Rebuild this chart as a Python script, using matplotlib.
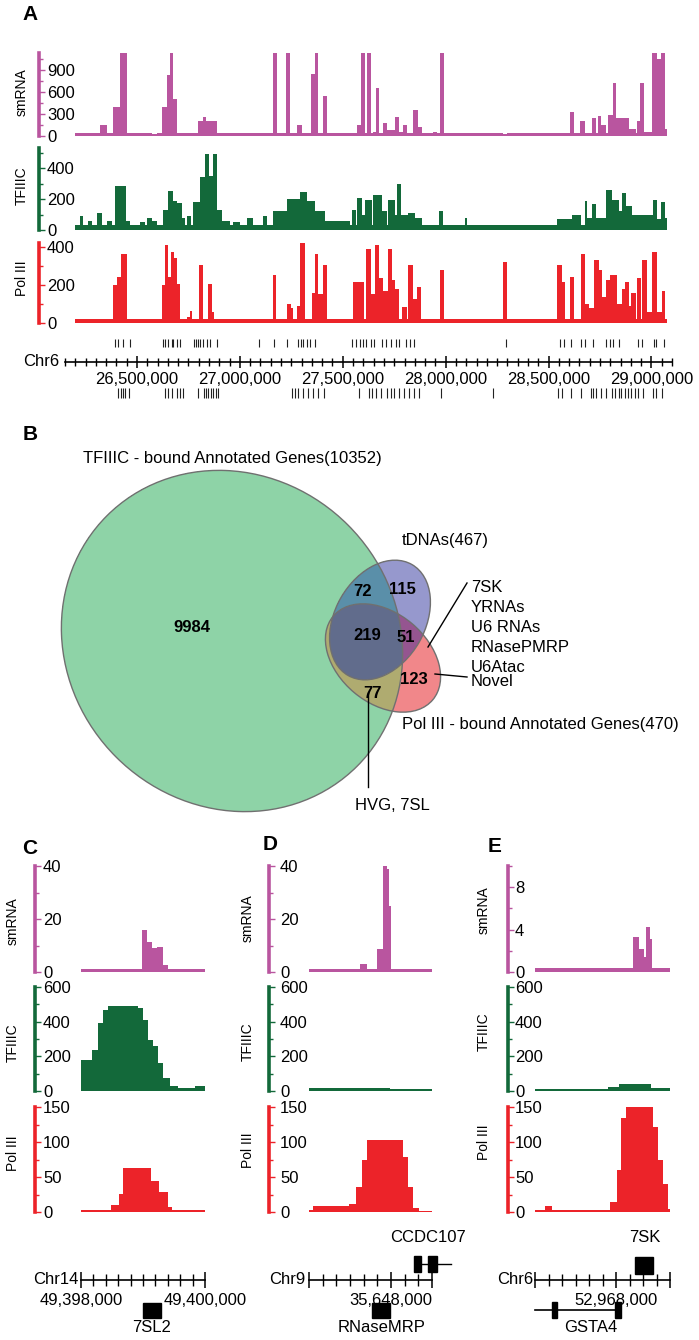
import numpy as np
import matplotlib
matplotlib.use('Agg')
import matplotlib.pyplot as plt
from matplotlib.patches import Ellipse, Rectangle
from matplotlib.colors import to_rgba

plt.rcParams['font.family'] = ['Liberation Sans', 'DejaVu Sans']

SM = '#b9559f'
TF = '#13693a'
P3 = '#ec2329'

# ---- panel A: chr6 tracks, (start kb, end kb, signal) ----
a_range = (26199, 29077)
a_smrna = [(26320, 26354, 150), (26384, 26418, 400), (26418, 26451, 1130), (26573, 26597, 30),
           (26621, 26646, 400), (26646, 26660, 830), (26660, 26675, 1130), (26675, 26694, 500),
           (26796, 26820, 200), (26820, 26835, 260), (26835, 26888, 210), (27160, 27180, 1130),
           (27223, 27243, 1130), (27277, 27301, 150), (27345, 27364, 840), (27364, 27379, 1130),
           (27403, 27422, 550), (27544, 27568, 40), (27568, 27587, 150), (27587, 27607, 1130),
           (27616, 27636, 1130), (27646, 27660, 60), (27660, 27675, 650), (27694, 27714, 180),
           (27714, 27752, 80), (27752, 27772, 260), (27772, 27791, 60), (27791, 27811, 150),
           (27815, 27840, 40), (27840, 27864, 350), (27864, 27883, 120), (27937, 27956, 50),
           (27971, 27990, 1130), (28277, 28296, 30), (28602, 28626, 320), (28655, 28679, 210),
           (28709, 28733, 250), (28738, 28757, 270), (28757, 28781, 150), (28791, 28811, 280),
           (28811, 28830, 720), (28830, 28893, 250), (28893, 28927, 100), (28932, 28946, 200),
           (28946, 28966, 720), (28966, 29005, 60), (29005, 29029, 1130), (29029, 29048, 1050),
           (29048, 29068, 1130), (29068, 29077, 100)]
a_tfiiic = [(26223, 26238, 90), (26262, 26282, 60), (26306, 26330, 110), (26354, 26379, 60),
            (26393, 26447, 285), (26447, 26466, 60), (26515, 26539, 50), (26549, 26573, 80),
            (26573, 26597, 60), (26626, 26650, 130), (26650, 26675, 255), (26675, 26694, 190),
            (26694, 26718, 175), (26718, 26733, 80), (26743, 26762, 90), (26772, 26806, 180),
            (26806, 26830, 340), (26830, 26850, 490), (26850, 26869, 350), (26869, 26888, 490),
            (26888, 26913, 130), (26913, 26951, 60), (26966, 27000, 50), (27034, 27063, 80),
            (27112, 27131, 90), (27160, 27228, 120), (27228, 27291, 200), (27291, 27325, 245),
            (27325, 27364, 185), (27364, 27413, 120), (27413, 27534, 60), (27544, 27563, 130),
            (27568, 27592, 205), (27592, 27607, 100), (27607, 27641, 195), (27646, 27689, 225),
            (27689, 27713, 120), (27718, 27752, 195), (27752, 27762, 100), (27762, 27781, 300),
            (27781, 27815, 100), (27815, 27849, 110), (27849, 27883, 80), (27966, 27985, 120),
            (28092, 28102, 80), (28539, 28616, 70), (28616, 28660, 100), (28675, 28689, 185),
            (28689, 28713, 80), (28713, 28733, 165), (28733, 28781, 80), (28781, 28806, 260),
            (28806, 28844, 195), (28844, 28859, 120), (28859, 28878, 240), (28878, 28908, 155),
            (28908, 29010, 100), (29010, 29029, 195), (29029, 29048, 70), (29048, 29068, 180),
            (29068, 29077, 80)]
a_pol3 = [(26384, 26403, 200), (26403, 26422, 240), (26422, 26451, 360), (26621, 26636, 197),
          (26636, 26650, 410), (26650, 26665, 240), (26665, 26680, 375), (26680, 26694, 340),
          (26694, 26709, 205), (26743, 26757, 30), (26757, 26767, 65), (26801, 26820, 305),
          (26845, 26864, 205), (26864, 26874, 60), (27160, 27175, 250), (27228, 27248, 100),
          (27248, 27257, 80), (27277, 27291, 90), (27291, 27316, 420), (27350, 27364, 160),
          (27364, 27379, 360), (27379, 27403, 150), (27403, 27422, 305), (27548, 27602, 215),
          (27612, 27636, 390), (27636, 27655, 150), (27655, 27675, 410), (27675, 27694, 235),
          (27694, 27718, 170), (27718, 27738, 390), (27738, 27752, 225), (27752, 27772, 180),
          (27786, 27811, 85), (27815, 27840, 305), (27840, 27859, 125), (27859, 27878, 190),
          (27971, 27990, 280), (28277, 28296, 320), (28539, 28563, 305), (28563, 28578, 215),
          (28602, 28626, 240), (28660, 28679, 360), (28679, 28699, 100), (28699, 28723, 80),
          (28723, 28743, 330), (28743, 28762, 280), (28762, 28781, 135), (28781, 28801, 225),
          (28801, 28835, 250), (28835, 28859, 100), (28859, 28874, 180), (28874, 28893, 215),
          (28893, 28903, 90), (28903, 28927, 155), (28932, 28951, 235), (28956, 28980, 330),
          (28980, 29005, 60), (29005, 29029, 375), (29029, 29053, 60), (29053, 29068, 170)]

genes_top = [26393, 26408, 26432, 26466, 26626, 26636, 26650, 26670, 26675, 26694, 26709,
             26777, 26786, 26796, 26806, 26820, 26840, 26854, 26888, 27092, 27165, 27228,
             27281, 27296, 27306, 27325, 27340, 27364, 27544, 27563, 27582, 27597, 27612,
             27636, 27650, 27689, 27709, 27733, 27757, 27772, 27806, 27825, 27845, 28291,
             28558, 28573, 28611, 28660, 28679, 28718, 28781, 28801, 28815, 28840, 28937,
             28956, 29014, 29024, 29063]
genes_bottom = [26408, 26422, 26432, 26442, 26461, 26636, 26650, 26670, 26694, 26709, 26723,
                26796, 26825, 26835, 26845, 26859, 26869, 26883, 26893, 27252, 27267, 27281,
                27306, 27330, 27354, 27379, 27408, 27578, 27626, 27641, 27660, 27684, 27713,
                27733, 27747, 27772, 27796, 27820, 27845, 27869, 27976, 28228, 28548, 28563,
                28611, 28660, 28704, 28718, 28733, 28757, 28781, 28806, 28825, 28840, 28854,
                28874, 28888, 28903, 28922, 28937, 28961, 29010, 29024, 29053]

# ---- panels C, D, E: (start bp, end bp, signal) ----
c_smrna = [(49398985, 49399065, 16), (49399065, 49399145, 11.5), (49399145, 49399225, 9),
           (49399225, 49399325, 9.5), (49399325, 49399405, 2.5)]
c_tfiiic = [(49398000, 49398177, 180), (49398177, 49398274, 238), (49398274, 49398355, 390),
            (49398355, 49398436, 466), (49398436, 49398919, 488), (49398919, 49399000, 476),
            (49399000, 49399081, 410), (49399081, 49399161, 295), (49399161, 49399242, 257),
            (49399242, 49399323, 162), (49399323, 49399436, 76), (49399436, 49399565, 29),
            (49399565, 49399839, 15), (49399839, 49400000, 30)]
c_pol3 = [(49398000, 49398484, 3), (49398484, 49398613, 10), (49398613, 49398677, 26),
          (49398677, 49399129, 63), (49399129, 49399258, 45), (49399258, 49399403, 29),
          (49399403, 49399468, 7), (49399468, 49400000, 3)]

d_smrna = [(35647546, 35647649, 3), (35647795, 35647883, 8.5), (35647883, 35647941, 40),
           (35647941, 35647970, 39), (35647970, 35648000, 25)]
d_tfiiic = [(35646800, 35647210, 16), (35647210, 35647985, 20), (35647985, 35648600, 11)]
d_pol3 = [(35646800, 35646859, 3), (35646859, 35647385, 9), (35647385, 35647488, 12),
          (35647488, 35647575, 36), (35647575, 35647649, 74), (35647649, 35648175, 103),
          (35648175, 35648248, 79), (35648248, 35648322, 36), (35648322, 35648409, 6),
          (35648409, 35648600, 2)]

e_smrna = [(52968250, 52968339, 3.3), (52968339, 52968413, 2.2), (52968413, 52968443, 1.4),
           (52968443, 52968502, 4.2), (52968502, 52968532, 3.1)]
e_tfiiic = [(52966800, 52967880, 10), (52967880, 52968043, 25), (52968043, 52968517, 40),
            (52968517, 52968800, 20)]
e_pol3 = [(52966800, 52966950, 3), (52966950, 52967055, 9), (52967055, 52967910, 3),
          (52967910, 52968015, 14), (52968015, 52968075, 60), (52968075, 52968150, 135),
          (52968150, 52968555, 150), (52968555, 52968615, 122), (52968615, 52968690, 75),
          (52968690, 52968765, 40), (52968765, 52968800, 4)]

# ---- panel B: venn ----
venn_counts = ['9984', '72', '115', '219', '51', '123', '77']
venn_count_xy = [(192, 628), (363, 591), (402, 589), (367, 636), (406, 637), (414, 680), (372, 693)]
pol3_classes = ['7SK', 'YRNAs', 'U6 RNAs', 'RNasePMRP', 'U6Atac']

W, H = 699, 1340
fig = plt.figure(figsize=(W / 100, H / 100), dpi=100)

ov = fig.add_axes([0, 0, 1, 1])
ov.axis('off')


def px_axes(x0, y0, x1, y1):
    return fig.add_axes([x0 / W, 1 - y1 / H, (x1 - x0) / W, (y1 - y0) / H])


def profile(segs, base, lo, hi):
    xs, ys = [lo], [base]
    for s, e, v in sorted(segs):
        xs += [s, e]
        ys += [v, base]
    xs.append(hi)
    ys.append(base)
    return np.array(xs, float), np.array(ys, float)


def track(box, xlim, ylim, color, segs, base, lo, hi, ticks, minor, spine_x, gap):
    ax = px_axes(*box)
    xs, ys = profile(segs, base, lo, hi)
    ax.fill_between(xs, 0, ys, step='post', color=color, lw=0)
    ax.set_xlim(xlim)
    ax.set_ylim(ylim)
    for s in ('top', 'right', 'bottom'):
        ax.spines[s].set_visible(False)
    sp = ax.spines['left']
    sp.set_position(('outward', (box[0] - spine_x) * 0.72))
    sp.set_color(color)
    sp.set_linewidth(2.6)
    ax.set_xticks([])
    ax.set_yticks(ticks)
    ax.set_yticks(minor, minor=True)
    ax.tick_params(axis='y', which='both', direction='in', color=color, width=1.0,
                   labelsize=12, pad=-gap * 0.72)
    ax.tick_params(axis='y', which='major', length=4)
    ax.tick_params(axis='y', which='minor', length=3)
    for lab in ax.get_yticklabels():
        lab.set_horizontalalignment('left')
    ax.patch.set_visible(False)
    return ax


def ruler(box, xlim, ylim, major, labels, step, majlen, minlen, pad):
    ax = px_axes(*box)
    ax.set_xlim(xlim)
    ax.set_ylim(ylim)
    for s in ('top', 'right', 'left'):
        ax.spines[s].set_visible(False)
    ax.spines['bottom'].set_position(('data', 0))
    ax.spines['bottom'].set_linewidth(1.2)
    ax.set_yticks([])
    ax.set_xticks(major)
    ax.set_xticklabels(labels)
    ax.set_xticks(np.arange(xlim[0], xlim[1] + 1, step), minor=True)
    ax.tick_params(axis='x', which='major', direction='inout', length=majlen, width=1.1,
                   pad=pad, labelsize=12)
    ax.tick_params(axis='x', which='minor', direction='inout', length=minlen, width=1.0)
    ax.patch.set_visible(False)
    return ax


# ---------- panel A ----------
ov.text(30, 15, 'A', fontsize=15, fontweight='bold', ha='center', va='center')
a_xlim = (26150, 29100)
track((65, 53, 672, 136), a_xlim, (0, 1130), SM, a_smrna, 45, *a_range,
      [0, 300, 600, 900], [150, 450, 750, 1050], 38.5, 8.5)
track((65, 148, 672, 230), a_xlim, (0, 530), TF, a_tfiiic, 30, *a_range,
      [0, 200, 400], [100, 300, 500], 38.5, 8.5)
track((65, 243, 672, 323), a_xlim, (0, 420), P3, a_pol3, 20, *a_range,
      [0, 200, 400], [100, 300], 38.5, 8.5)
for lab, y in [('smRNA', 92), ('TFIIIC', 186), ('Pol III', 278)]:
    ov.text(22, y, lab, rotation=90, fontsize=10, ha='center', va='center')

a_major = list(range(26500, 29001, 500))
ra = ruler((65, 330, 672, 402), a_xlim, (-40, 32), a_major,
           [f'{v * 1000:,}' for v in a_major], 50, 9, 6, 3)
ra.vlines(genes_top, 15, 23, color='#222222', lw=0.8)
ra.vlines(genes_bottom, -26, -36, color='#222222', lw=0.8)
ov.text(59, 362, 'Chr6', fontsize=12, ha='right', va='center')

# ---------- panel B ----------
ov.text(30, 435, 'B', fontsize=15, fontweight='bold', ha='center', va='center')
venn_green = (232, 641, 177, 164, 45)
venn_tdna = (380, 620, 64, 45, -60)
venn_pol3 = (383, 658, 65, 45, 40)


def inside(X, Y, cx, cy, a, b, ang):
    t = np.deg2rad(ang)
    dx, dy = X - cx, Y - cy
    u = dx * np.cos(t) + dy * np.sin(t)
    v = -dx * np.sin(t) + dy * np.cos(t)
    return (u / a) ** 2 + (v / b) ** 2 <= 1


gx = np.arange(50, 450, 0.5) + 0.25
gy = np.arange(460, 820, 0.5) + 0.25
X, Y = np.meshgrid(gx, gy)
g = inside(X, Y, *venn_green)
t = inside(X, Y, *venn_tdna)
p = inside(X, Y, *venn_pol3)
img = np.zeros(X.shape + (4,))
regions = [(g & ~t & ~p, '#8ed3a7'), (t & ~g & ~p, '#9698cd'), (p & ~g & ~t, '#f1878a'),
           (g & t & ~p, '#5a8fa9'), (g & p & ~t, '#afab70'), (t & p & ~g, '#955590'),
           (g & t & p, '#616c8c')]
for m, c in regions:
    img[m] = to_rgba(c)
ov.imshow(img, extent=(50, 450, 820, 460), origin='upper', interpolation='nearest',
          aspect='auto', zorder=1)
for cx, cy, a, b, ang in (venn_green, venn_tdna, venn_pol3):
    ov.add_patch(Ellipse((cx, cy), 2 * a, 2 * b, angle=ang, fill=False,
                         edgecolor='#707070', lw=1.0, zorder=2))
for txt, (x, y) in zip(venn_counts, venn_count_xy):
    ov.text(x, y, txt, fontsize=12, fontweight='bold', ha='center', va='center', zorder=3)

ov.text(83, 458, 'TFIIIC - bound Annotated Genes(10352)', fontsize=12, ha='left', va='center')
ov.text(402, 540, 'tDNAs(467)', fontsize=12, ha='left', va='center')
ov.text(402, 725, 'Pol III - bound Annotated Genes(470)', fontsize=12, ha='left', va='center')
ov.text(355, 805, 'HVG, 7SL', fontsize=12, ha='left', va='center')
for i, name in enumerate(pol3_classes):
    ov.text(471, 587 + 20 * i, name, fontsize=12, ha='left', va='center')
ov.text(471, 681, 'Novel', fontsize=12, ha='left', va='center')
ov.plot([467, 428], [583, 647], color='k', lw=1.0, zorder=3)
ov.plot([435, 467], [674, 677], color='k', lw=1.0, zorder=3)
ov.plot([368, 368], [693, 787], color='k', lw=1.0, zorder=3)

# ---------- panels C, D, E ----------
panels = [
    dict(tag='C', tag_xy=(30, 848), x0=81, x1=205, spine=35, gap=8, lab_x=13,
         lab_y=(921, 1043, 1153), xlim=(49398000, 49400000),
         sm=c_smrna, tf=c_tfiiic, p3=c_pol3, smy=40, chrom='Chr14', chr_x=78,
         major=[49398000, 49400000], mlabels=['49,398,000', '49,400,000']),
    dict(tag='D', tag_xy=(270, 845), x0=309, x1=432, spine=269, gap=11, lab_x=248,
         lab_y=(918, 1042, 1150), xlim=(35646800, 35648600),
         sm=d_smrna, tf=d_tfiiic, p3=d_pol3, smy=40, chrom='Chr9', chr_x=305,
         major=[35646800, 35648000, 35648600], mlabels=['', '35,648,000', '']),
    dict(tag='E', tag_xy=(495, 846), x0=535, x1=670, spine=508, gap=7, lab_x=484,
         lab_y=(910, 1032, 1142), xlim=(52966800, 52968800),
         sm=e_smrna, tf=e_tfiiic, p3=e_pol3, smy=10, chrom='Chr6', chr_x=533,
         major=[52966800, 52968000, 52968800], mlabels=['', '52,968,000', '']),
]
rulers = []
for pn in panels:
    ov.text(*pn['tag_xy'], pn['tag'], fontsize=15, fontweight='bold', ha='center', va='center')
    lo, hi = pn['xlim']
    if pn['smy'] == 40:
        smt, smm, smb = [0, 20, 40], [10, 30], 1.3
    else:
        smt, smm, smb = [0, 4, 8], [2, 6, 10], 0.35
    track((pn['x0'], 866, pn['x1'], 972), pn['xlim'], (0, pn['smy']), SM, pn['sm'], smb, lo, hi,
          smt, smm, pn['spine'], pn['gap'])
    track((pn['x0'], 987, pn['x1'], 1091), pn['xlim'], (0, 600), TF, pn['tf'], 0, lo, hi,
          [0, 200, 400, 600], [100, 300, 500], pn['spine'], pn['gap'])
    track((pn['x0'], 1107, pn['x1'], 1212), pn['xlim'], (0, 150), P3, pn['p3'], 0, lo, hi,
          [0, 50, 100, 150], [25, 75, 125], pn['spine'], pn['gap'])
    for lab, y in zip(['smRNA', 'TFIIIC', 'Pol III'], pn['lab_y']):
        ov.text(pn['lab_x'], y, lab, rotation=90, fontsize=10, ha='center', va='center')
    r = ruler((pn['x0'], 1250, pn['x1'], 1322), pn['xlim'], (-42, 30), pn['major'],
              pn['mlabels'], 200, 12, 8, 3.5)
    ov.text(pn['chr_x'], 1279, pn['chrom'], fontsize=12, ha='right', va='center')
    rulers.append(r)

rc, rd, re_ = rulers
# C: 7SL2
rc.add_patch(Rectangle((49399000, -38), 290, 15, color='k', clip_on=False))
rc.text(49399145, -48, '7SL2', fontsize=12, ha='center', va='center')
# D: CCDC107 and RNaseMRP
rd.plot([35648439, 35648877], [16, 16], color='k', lw=1.0, clip_on=False)
rd.add_patch(Rectangle((35648336, 8), 103, 16, color='k', clip_on=False))
rd.add_patch(Rectangle((35648541, 8), 132, 16, color='k', clip_on=False))
rd.text(35648541, 43, 'CCDC107', fontsize=12, ha='center', va='center')
rd.add_patch(Rectangle((35647722, -38), 263, 15, color='k', clip_on=False))
rd.text(35647868, -48, 'RNaseMRP', fontsize=12, ha='center', va='center')
# E: 7SK and GSTA4
re_.add_patch(Rectangle((52968285, 6), 270, 17, color='k', clip_on=False))
re_.text(52968420, 43, '7SK', fontsize=12, ha='center', va='center')
re_.plot([52966800, 52968075], [-30, -30], color='k', lw=1.2, clip_on=False)
re_.add_patch(Rectangle((52967055, -38), 75, 16, color='k', clip_on=False))
re_.add_patch(Rectangle((52967985, -38), 90, 16, color='k', clip_on=False))
re_.text(52967625, -48, 'GSTA4', fontsize=12, ha='center', va='center')

ov.set_xlim(0, W)
ov.set_ylim(H, 0)
fig.savefig('out.png', dpi=100)
